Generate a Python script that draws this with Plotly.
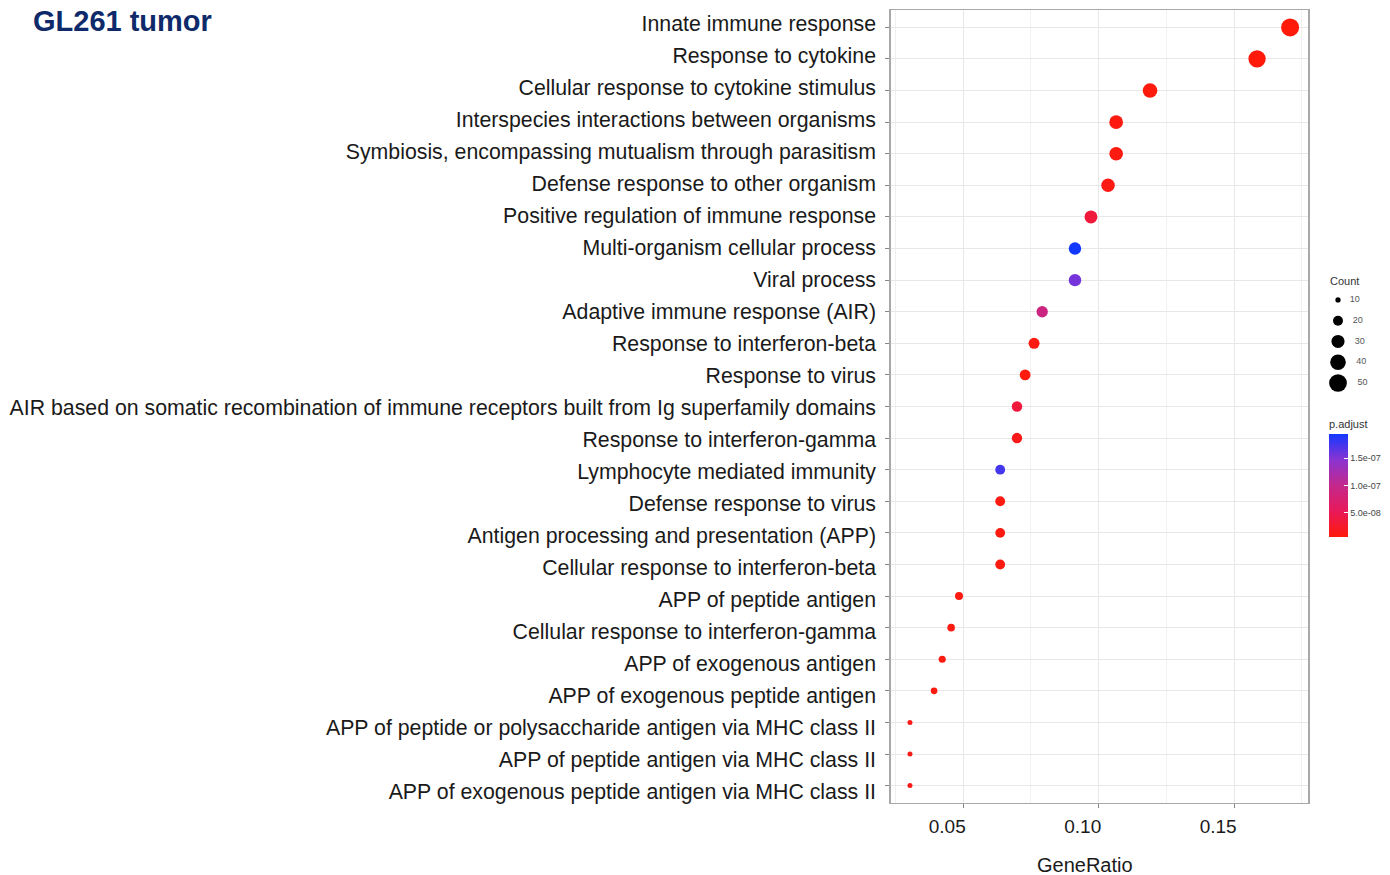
import plotly.graph_objects as go

terms = [
    "Innate immune response",
    "Response to cytokine",
    "Cellular response to cytokine stimulus",
    "Interspecies interactions between organisms",
    "Symbiosis, encompassing mutualism through parasitism",
    "Defense response to other organism",
    "Positive regulation of immune response",
    "Multi-organism cellular process",
    "Viral process",
    "Adaptive immune response (AIR)",
    "Response to interferon-beta",
    "Response to virus",
    "AIR based on somatic recombination of immune receptors built from Ig superfamily domains",
    "Response to interferon-gamma",
    "Lymphocyte mediated immunity",
    "Defense response to virus",
    "Antigen processing and presentation (APP)",
    "Cellular response to interferon-beta",
    "APP of peptide antigen",
    "Cellular response to interferon-gamma",
    "APP of exogenous antigen",
    "APP of exogenous peptide antigen",
    "APP of peptide or polysaccharide antigen via MHC class II",
    "APP of peptide antigen via MHC class II",
    "APP of exogenous peptide antigen via MHC class II",
]
gene_ratio = [0.1707, 0.1585, 0.1190, 0.1065, 0.1065, 0.1035, 0.0972, 0.0913, 0.0913,
              0.0792, 0.0762, 0.0729, 0.0699, 0.0699, 0.0637, 0.0637, 0.0637, 0.0637,
              0.0485, 0.0456, 0.0423, 0.0393, 0.0304, 0.0304, 0.0304]
counts = [56, 52, 39, 35, 35, 34, 32, 30, 30, 26, 25, 24, 23, 23, 21, 21, 21, 21,
          16, 15, 14, 13, 10, 10, 10]
p_adjust = [6e-9, 6e-9, 8e-9, 1.0e-8, 1.0e-8, 1.2e-8, 3.5e-8, 1.94e-7, 1.55e-7,
            9e-8, 1.0e-8, 8e-9, 3.5e-8, 1.5e-8, 1.75e-7, 1.0e-8, 1.0e-8, 1.0e-8,
            1.0e-8, 1.0e-8, 1.0e-8, 1.0e-8, 1.5e-8, 1.5e-8, 1.5e-8]

legend_counts = [10, 20, 30, 40, 50]
x_ticks = [0.05, 0.10, 0.15]
x_ticktext = ["0.05", "0.10", "0.15"]
cbar_ticks = [5e-8, 1e-7, 1.5e-7]
cbar_ticktext = ["5.0e-08", "1.0e-07", "1.5e-07"]

CMIN, CMAX = 6e-9, 1.94e-7
NMIN, NMAX = 10, 56
DMIN, DMAX = 5.0, 18.0


def diam(c):
    t = (c - NMIN) / (NMAX - NMIN)
    return (DMIN ** 2 + t * (DMAX ** 2 - DMIN ** 2)) ** 0.5


colorscale = [[0.0, "#FF1A0A"], [0.25, "#E8195A"], [0.5, "#C4288C"],
              [0.75, "#8A34D2"], [1.0, "#1238FF"]]

W, H = 1390, 875
ML, MR, MT, MB = 891, 10, 10, 72
PW = W - ML - MR
PH = H - MT - MB
main_right = 1308
NB = "\u00a0"


def px_x(p):
    return (p - ML) / PW


def px_y(p):
    return (H - MB - p) / PH


fig = go.Figure()
fig.add_trace(go.Scatter(
    x=gene_ratio, y=terms, mode="markers",
    marker=dict(size=[diam(c) for c in counts], color=p_adjust,
                colorscale=colorscale, cmin=CMIN, cmax=CMAX, line=dict(width=0),
                opacity=1,
                colorbar=dict(
                    title=dict(text="p.adjust", side="top",
                               font=dict(size=11, color="#333", family="Liberation Sans, Arial")),
                    thickness=19, thicknessmode="pixels",
                    len=120, lenmode="pixels",
                    x=px_x(1329), xanchor="left",
                    y=px_y(537), yanchor="bottom",
                    xpad=0, ypad=0, outlinewidth=0,
                    tickvals=cbar_ticks, ticktext=cbar_ticktext,
                    ticks="inside", ticklen=4, tickcolor="white",
                    tickfont=dict(size=9, color="#444", family="Liberation Sans, Arial"),
                )),
    showlegend=False, hoverinfo="x+y",
))

# category labels on an overlaid axis (labels sit on a slightly wider pitch)
fig.add_trace(go.Scatter(
    x=[None] * len(terms), y=list(range(len(terms))), mode="markers",
    xaxis="x", yaxis="y3", showlegend=False, hoverinfo="skip",
))

# size legend drawn on an inset axis
fig.add_trace(go.Scatter(
    x=[0] * len(legend_counts), y=list(range(len(legend_counts))),
    mode="markers+text", text=[f"{NB}{NB}{NB}{c}" for c in legend_counts],
    textposition="middle right",
    textfont=dict(size=9, color="#555", family="Liberation Sans, Arial"),
    marker=dict(size=[diam(c) * 1.05 for c in legend_counts], color="#000000",
                opacity=1, line=dict(width=0)),
    xaxis="x2", yaxis="y2", showlegend=False, hoverinfo="skip", cliponaxis=False,
))

row_h = 20.75
leg_top = 341.5 - 2.5 * row_h
leg_bot = 341.5 + 2.5 * row_h

lab_pitch = 32.0
lab_first = 24.0
lab_top = -(lab_first - MT) / lab_pitch
lab_bot = lab_top + PH / lab_pitch

fig.update_layout(
    width=W, height=H,
    margin=dict(l=ML, r=MR, t=MT, b=MB, pad=0, autoexpand=False),
    paper_bgcolor="white", plot_bgcolor="white",
    font=dict(family="Liberation Sans, Arial, sans-serif", color="#1a1a1a"),
    title=dict(text="<b>GL261 tumor</b>", xref="container", yref="container",
               x=33 / W, xanchor="left", y=1 - 21 / H, yanchor="middle",
               font=dict(size=29, color="#0E2A6A", family="Liberation Sans, Arial")),
    xaxis=dict(
        domain=[0, px_x(main_right)],
        range=[0.0234, 0.1773],
        tickvals=x_ticks, ticktext=[t + NB * 6 for t in x_ticktext],
        ticks="outside", ticklen=4, tickcolor="#888",
        ticklabelstandoff=2,
        tickfont=dict(size=19, color="#1a1a1a"),
        showgrid=True, gridcolor="#E8E8E8", gridwidth=1,
        minor=dict(tickvals=[0.025, 0.075, 0.125, 0.175], showgrid=True,
                   gridcolor="#F1F1F1", gridwidth=1, ticks=""),
        showline=True, linecolor="#A8A8A8", linewidth=1, mirror=True,
        zeroline=False,
    ),
    yaxis=dict(
        categoryorder="array", categoryarray=terms,
        range=[len(terms) - 1 + 0.55, -0.55],
        ticks="outside", ticklen=4, tickcolor="#888",
        showticklabels=False,
        showgrid=True, gridcolor="#E8E8E8", gridwidth=1,
        showline=True, linecolor="#A8A8A8", linewidth=1.5, mirror=True,
        zeroline=False,
    ),
    yaxis3=dict(
        overlaying="y", side="left", anchor="x",
        range=[lab_bot, lab_top],
        tickvals=list(range(len(terms))), ticktext=terms,
        ticks="", ticklen=4, ticklabelstandoff=14,
        tickfont=dict(size=21.3, color="#1a1a1a"),
        showgrid=False, showline=False, zeroline=False,
    ),
    xaxis2=dict(domain=[px_x(1330), px_x(1346)], range=[-1, 1], anchor="y2",
                visible=False, fixedrange=True),
    yaxis2=dict(domain=[px_y(leg_bot), px_y(leg_top)], range=[4.5, -0.5], anchor="x2",
                visible=False, fixedrange=True),
    annotations=[
        dict(text="Count", xref="paper", yref="paper",
             x=px_x(1328), y=px_y(281), xanchor="left", yanchor="middle",
             showarrow=False,
             font=dict(size=11, color="#333", family="Liberation Sans, Arial")),
        dict(text="GeneRatio", xref="paper", yref="paper",
             x=px_x(1085), y=px_y(865), xanchor="center", yanchor="middle",
             showarrow=False,
             font=dict(size=20, color="#1a1a1a", family="Liberation Sans, Arial")),
    ],
)

fig.write_html("out.html")
